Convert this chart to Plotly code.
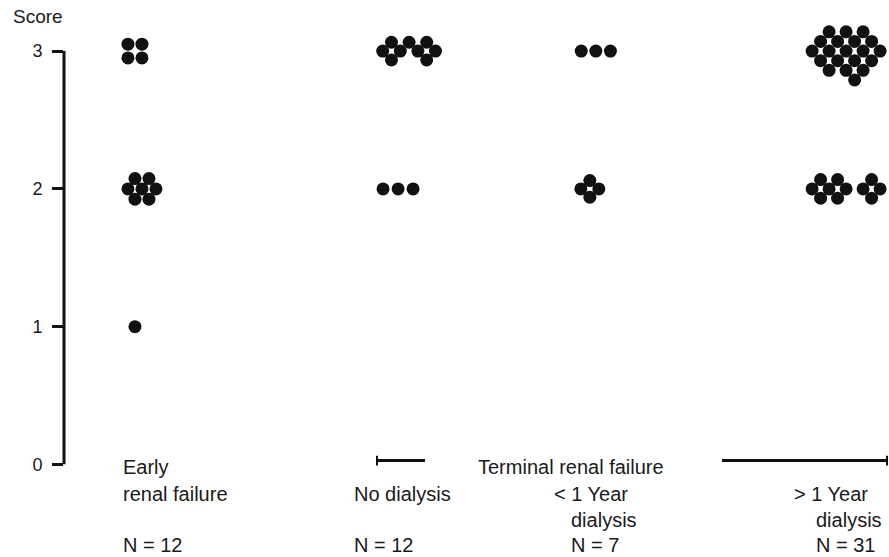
import plotly.graph_objects as go

# ---------------- data ----------------
groups = ["Early renal failure", "No dialysis", "< 1 Year dialysis", "> 1 Year dialysis"]
scores = [0, 1, 2, 3]
tick_labels = ["0", "1", "2", "3"]
count_score3 = [4, 9, 3, 20]
count_score2 = [7, 3, 4, 11]
count_score1 = [1, 0, 0, 0]
count_score0 = [0, 0, 0, 0]
n_totals = [12, 12, 7, 31]

# ---------------- layout / style ----------------
W, H = 889, 557
PLOT_L, PLOT_R = 64, 889          # px extent of the x axis
Y0_PX, Y3_PX = 473, 52            # px of score 0 and score 3
X_RANGE = (0, 10)
Y_RANGE = (0, 3.3)                # headroom so the top clusters stay visible
PX_PER_X = (PLOT_R - PLOT_L) / (X_RANGE[1] - X_RANGE[0])
PX_PER_Y = (Y0_PX - Y3_PX) / 3
PLOT_T = Y0_PX - (Y_RANGE[1] - Y_RANGE[0]) * PX_PER_Y

GROUP_POS = [0.86, 4.11, 6.41, 9.48]   # x-axis slot of each group column

# dot-packing patterns per (group index, score): 'o' = slot, '.' = empty
PATTERNS = {
    (0, 3): dict(rows=["o.o", "o.o"], hx=7, vy=14, dx=0),
    (0, 2): dict(rows=[".o.o.", "o.o.o", ".o.o."], hx=7, vy=10.5, dx=7),
    (0, 1): dict(rows=["o"], hx=7, vy=10, dx=0),
    (1, 3): dict(rows=[".o.o.o.", "o.o.o.o", ".o...o."], hx=8.8, vy=9, dx=6),
    (1, 2): dict(rows=["o.o.o"], hx=7.5, vy=10, dx=-5),
    (2, 3): dict(rows=["o.o.o"], hx=7.3, vy=10, dx=3),
    (2, 2): dict(rows=[".o.", "o.o", ".o."], hx=9, vy=8.5, dx=-3),
    (3, 3): dict(rows=["..o.o.o..", ".o.o.o.o.", "o.o.o.o.o",
                       ".o.o.o.o.", "..o.o.o..", ".....o..."], hx=8.5, vy=9.8, dx=0),
    (3, 2): dict(rows=[".o.o...o.", "o.o.o.o.o", ".o.o...o."], hx=8.5, vy=9.5, dx=0),
}


def offsets(n, pat):
    """pixel offsets of the first n slots of a packing pattern"""
    rows = pat["rows"]
    w = max(len(r) for r in rows)
    cx = (w - 1) / 2
    widths = [r.count("o") for r in rows]
    mx = max(widths)
    cy = sum(i for i, c in enumerate(widths) if c == mx) / widths.count(mx)
    out = []
    for ri, r in enumerate(rows):
        for ci, ch in enumerate(r.ljust(w, ".")):
            if ch == "o":
                out.append(((ci - cx) * pat["hx"] + pat["dx"], (ri - cy) * pat["vy"]))
    return out[:n]


counts_by_score = {3: count_score3, 2: count_score2, 1: count_score1, 0: count_score0}

fig = go.Figure()
for gi, g in enumerate(groups):
    xs, ys = [], []
    for s in scores:
        n = counts_by_score[s][gi]
        if n == 0:
            continue
        pat = PATTERNS.get((gi, s), dict(rows=["o" + ".o" * (n - 1)], hx=7, vy=10, dx=0))
        for dxp, dyp in offsets(n, pat):
            xs.append(GROUP_POS[gi] + dxp / PX_PER_X)
            ys.append(s - dyp / PX_PER_Y)
    fig.add_trace(go.Scatter(
        x=xs, y=ys, mode="markers", name=g, showlegend=False, cliponaxis=False,
        marker=dict(size=13, color="#111111", line=dict(width=0)),
        hoverinfo="skip"))

FONT = "Liberation Sans, Arial, Helvetica, sans-serif"
TXT = "#1a1a1a"


def px(x):
    return x / W


def py(y):
    return 1 - y / H


annotations = []


def label(text, x, y, size=20):
    annotations.append(dict(text=text, x=px(x), y=py(y), xref="paper", yref="paper",
                            xanchor="left", yanchor="middle", showarrow=False,
                            font=dict(family=FONT, size=size, color=TXT)))


ROWS = [476, 503, 530, 555]
label("Score", 11, 17, size=19)
label("Early", 121, ROWS[0])
label("renal failure", 121, ROWS[1])
label("N = " + str(n_totals[0]), 121, ROWS[3])
label("No dialysis", 352, ROWS[1])
label("N = " + str(n_totals[1]), 352, ROWS[3])
label("Terminal renal failure", 476, ROWS[0])
label("< 1 Year", 552, ROWS[1])
label("dialysis", 569, ROWS[2])
label("N = " + str(n_totals[2]), 569, ROWS[3])
label("> 1 Year", 792, ROWS[1])
label("dialysis", 814, ROWS[2])
label("N = " + str(n_totals[3]), 814, ROWS[3])

shapes = []
# y-axis line from score 0 to score 3
shapes.append(dict(type="line", xref="paper", yref="y", x0=px(PLOT_L), x1=px(PLOT_L),
                   y0=scores[0], y1=scores[-1], line=dict(color="#111111", width=3)))
# "Terminal renal failure" bracket
for (x0, x1) in [(376, 425), (722, 888)]:
    shapes.append(dict(type="line", xref="paper", yref="paper", x0=px(x0), x1=px(x1),
                       y0=py(469), y1=py(469), line=dict(color="#111111", width=3)))
for xt in [377, 887]:
    shapes.append(dict(type="line", xref="paper", yref="paper", x0=px(xt), x1=px(xt),
                       y0=py(464), y1=py(474), line=dict(color="#111111", width=2)))

fig.update_layout(
    width=W, height=H,
    margin=dict(l=0, r=0, t=0, b=0),
    paper_bgcolor="white", plot_bgcolor="white",
    font=dict(family=FONT, color=TXT),
    xaxis=dict(domain=[PLOT_L / W, PLOT_R / W], range=list(X_RANGE), visible=False,
               fixedrange=True),
    yaxis=dict(domain=[1 - Y0_PX / H, 1 - PLOT_T / H], range=list(Y_RANGE),
               showline=False,
               ticks="outside", ticklen=11, tickwidth=3, tickcolor="#111111",
               tickvals=scores, ticktext=tick_labels, ticklabelstandoff=6,
               tickfont=dict(family=FONT, size=18, color=TXT),
               showgrid=False, zeroline=False, fixedrange=True),
    annotations=annotations,
    shapes=shapes,
)

fig.write_html("out.html", config={"displayModeBar": False},
               post_script="document.body.style.margin='0';")
